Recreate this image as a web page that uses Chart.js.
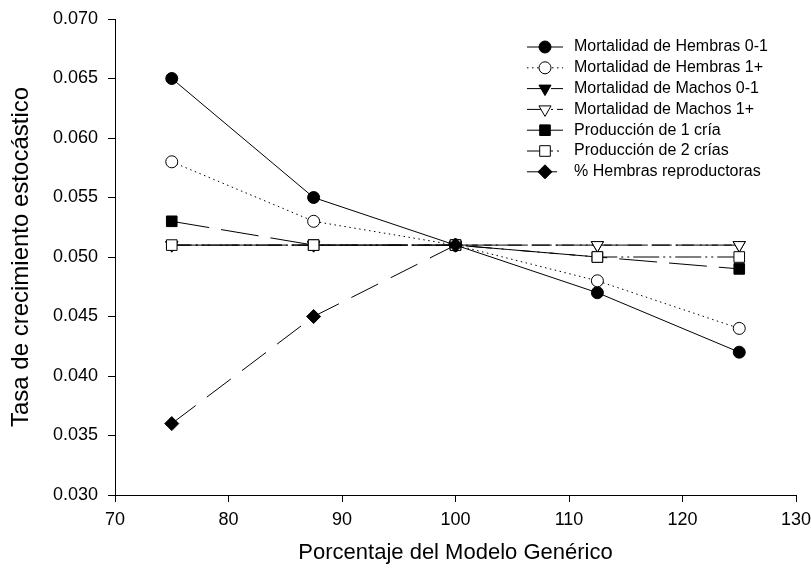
<!DOCTYPE html>
<html>
<head>
<meta charset="utf-8">
<script src="https://cdn.jsdelivr.net/npm/chart.js@4.4.1/dist/chart.umd.min.js"></script>
<style>
  html, body { margin: 0; padding: 0; background: #fff; }
  #wrap { width: 811px; height: 571px; position: relative; }
</style>
</head>
<body>
<div id="wrap"><canvas id="c"></canvas></div>
<script>
// ---- Data ----
const porcentajes = [75, 87.5, 100, 112.5, 125];
const seriesNames = [
  "Mortalidad de Hembras 0-1",
  "Mortalidad de Hembras 1+",
  "Mortalidad de Machos 0-1",
  "Mortalidad de Machos 1+",
  "Producción de 1 cría",
  "Producción de 2 crías",
  "% Hembras reproductoras"
];
const hembras01 = [0.065, 0.055, 0.051, 0.047, 0.042];
const hembras1p = [0.058, 0.053, 0.051, 0.048, 0.044];
const machos01 = [0.051, 0.051, 0.051, 0.051, 0.051];
const machos1p = [0.051, 0.051, 0.051, 0.051, 0.051];
const prod1 = [0.053, 0.051, 0.051, 0.050, 0.049];
const prod2 = [0.051, 0.051, 0.051, 0.050, 0.050];
const hembrasRepro = [0.036, 0.045, 0.051, null, null];
const xTicks = [70, 80, 90, 100, 110, 120, 130];
const yTicks = [0.030, 0.035, 0.040, 0.045, 0.050, 0.055, 0.060, 0.065, 0.070];

const FONT = "'Liberation Sans', Arial, sans-serif";

function pts(vals) {
  return porcentajes.map((x, i) => ({ x: x, y: vals[i] }));
}

const styles = [
  { data: hembras01, pointStyle: 'circle', fill: '#000', radius: 6, rot: 0, dash: [] },
  { data: hembras1p, pointStyle: 'circle', fill: '#fff', radius: 6, rot: 0, dash: [1.5, 3.5] },
  { data: machos01, pointStyle: 'triangle', fill: '#000', radius: 7, rot: 180, dash: [18, 6] },
  { data: machos1p, pointStyle: 'triangle', fill: '#fff', radius: 7, rot: 180, dash: [20, 4, 2, 4] },
  { data: prod1, pointStyle: 'rect', fill: '#000', radius: 7.5, rot: 0, dash: [38, 12] },
  { data: prod2, pointStyle: 'rect', fill: '#fff', radius: 7.5, rot: 0, dash: [26, 4, 2, 4, 2, 4] },
  { data: hembrasRepro, pointStyle: 'rectRot', fill: '#000', radius: 7, rot: 0, dash: [30, 14] }
];

const datasets = styles.map((s, i) => ({
  label: seriesNames[i],
  data: pts(s.data),
  borderColor: '#000',
  borderWidth: 1,
  borderDash: s.dash,
  backgroundColor: s.fill,
  pointStyle: s.pointStyle,
  pointRadius: s.radius,
  pointRotation: s.rot,
  pointBackgroundColor: s.fill,
  pointBorderColor: '#000',
  pointBorderWidth: 1,
  fill: false,
  tension: 0,
  spanGaps: false,
  order: styles.length - i
}));

const insideLegend = {
  id: 'insideLegend',
  afterDraw(chart) {
    const ctx = chart.ctx;
    const x0 = 527, x1 = 563, xm = 545, xt = 574;
    const y0 = 47, dy = 20.8;
    ctx.save();
    styles.forEach((s, i) => {
      const y = y0 + i * dy;
      ctx.strokeStyle = '#000';
      ctx.lineWidth = 1;
      ctx.setLineDash(s.dash);
      ctx.beginPath();
      ctx.moveTo(x0, y);
      ctx.lineTo(x1, y);
      ctx.stroke();
      ctx.setLineDash([]);
      ctx.fillStyle = s.fill;
      ctx.strokeStyle = '#000';
      ctx.lineWidth = 1;
      Chart.helpers.drawPoint(ctx, {
        pointStyle: s.pointStyle, radius: s.radius, rotation: s.rot, borderWidth: 1
      }, xm, y);
      ctx.fillStyle = '#000';
      ctx.font = "16px " + FONT;
      ctx.textBaseline = 'middle';
      ctx.textAlign = 'left';
      ctx.fillText(seriesNames[i], xt, y);
    });
    ctx.restore();
  }
};

new Chart(document.getElementById('c'), {
  type: 'line',
  data: { datasets: datasets },
  plugins: [insideLegend],
  options: {
    responsive: true,
    maintainAspectRatio: false,
    animation: false,
    layout: { padding: { top: 19, right: 15, left: 0, bottom: 0 } },
    plugins: { legend: { display: false }, tooltip: { enabled: false } },
    scales: {
      x: {
        type: 'linear',
        min: 70, max: 130,
        afterBuildTicks(scale) { scale.ticks = xTicks.map(v => ({ value: v })); },
        afterFit(scale) { scale.height = 76; scale.paddingRight = 0; scale.paddingLeft = 0; },
        grid: { display: true, drawOnChartArea: false, drawTicks: true, tickLength: 7, color: '#000', lineWidth: 1 },
        border: { display: true, color: '#000', width: 1 },
        ticks: { color: '#000', font: { family: FONT, size: 18 }, padding: 7, maxRotation: 0,
                 callback: v => String(v) },
        title: { display: true, text: 'Porcentaje del Modelo Genérico', color: '#000',
                 font: { family: FONT, size: 22 }, padding: { top: 0, bottom: 5 } }
      },
      y: {
        type: 'linear',
        min: 0.030, max: 0.070,
        afterBuildTicks(scale) { scale.ticks = yTicks.map(v => ({ value: v })); },
        afterFit(scale) { scale.width = 115; scale.paddingTop = 0; scale.paddingBottom = 0; },
        grid: { display: true, drawOnChartArea: false, drawTicks: true, tickLength: 7, color: '#000', lineWidth: 1 },
        border: { display: true, color: '#000', width: 1 },
        ticks: { color: '#000', font: { family: FONT, size: 18 }, padding: 10,
                 callback: v => Number(v).toFixed(3) },
        title: { display: true, text: 'Tasa de crecimiento estocástico', color: '#000',
                 font: { family: FONT, size: 24 }, padding: { top: 7, bottom: 0 } }
      }
    }
  }
});
</script>
</body>
</html>
